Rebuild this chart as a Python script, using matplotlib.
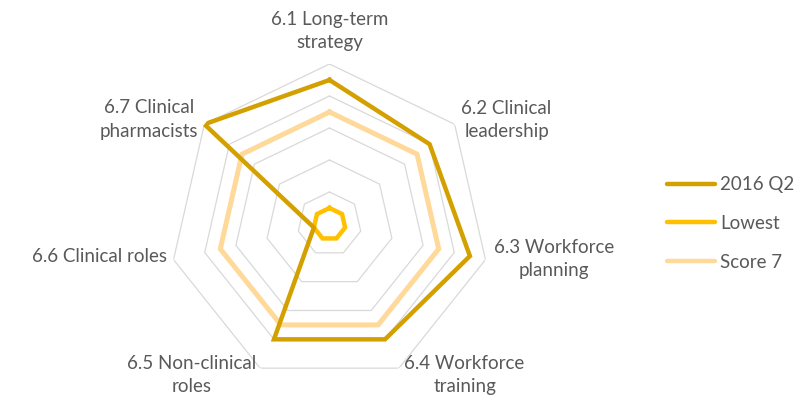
import numpy as np
import matplotlib
matplotlib.use("Agg")
import matplotlib.pyplot as plt
from matplotlib.lines import Line2D

categories = ["6.1 Long-term\nstrategy", "6.2 Clinical\nleadership", "6.3 Workforce\nplanning",
              "6.4 Workforce\ntraining", "6.5 Non-clinical\nroles", "6.6 Clinical roles",
              "6.7 Clinical\npharmacists"]
q2_2016 = [9, 8, 9, 8, 8, 1, 10]
lowest = [1, 1, 1, 1, 1, 1, 1]
score7 = [7, 7, 7, 7, 7, 7, 7]
series_names = ["2016 Q2", "Lowest", "Score 7"]
grid_levels = [2, 4, 6, 8, 10]

# label placement (angle deg clockwise from north, radius in data units)
label_pos = [(0, 12.05), (59.5, 12.84), (98.8, 14.2), (138.2, 12.67),
             (222.4, 12.8), (261.9, 14.5), (300, 13.05)]

col_q2 = "#D4A000"
col_low = "#FFC000"
col_s7 = "#FFD99A"
text_col = "#595959"

plt.rcParams['font.family'] = ['Lato', 'DejaVu Sans']

fig = plt.figure(figsize=(8, 3.99), dpi=100)
cx, cy, R = 329.5, 399 - 224, 160
ax = fig.add_axes([(cx - R) / 800, (cy - R) / 399, 2 * R / 800, 2 * R / 399], projection='polar')
ax.set_theta_zero_location('N')
ax.set_theta_direction(-1)
ax.set_ylim(0, 10)
ax.grid(False)
ax.spines['polar'].set_visible(False)
ax.set_xticks([])
ax.set_yticks([])
ax.patch.set_alpha(0)

n = len(categories)
theta = np.linspace(0, 2 * np.pi, n, endpoint=False)
theta_c = np.append(theta, theta[0])

for lv in grid_levels:
    ax.plot(theta_c, [lv] * (n + 1), color="#D9D9D9", lw=0.9, zorder=1)

def closed(v):
    return list(v) + [v[0]]

ax.plot(theta_c, closed(score7), color=col_s7, lw=3.6, zorder=3, solid_joinstyle='miter')
ax.plot(theta_c, closed(lowest), color=col_low, lw=3.2, zorder=4, solid_joinstyle='miter')
ax.plot(theta_c, closed(q2_2016), color=col_q2, lw=3.2, zorder=5, solid_joinstyle='miter')

for lab, (ang, r) in zip(categories, label_pos):
    ax.text(np.deg2rad(ang), r, lab, ha='center', va='center', fontsize=13.5,
            color=text_col, linespacing=1.45, clip_on=False)

handles = [Line2D([], [], color=col_q2, lw=3.2, solid_capstyle='round'),
           Line2D([], [], color=col_low, lw=3.2, solid_capstyle='round'),
           Line2D([], [], color=col_s7, lw=3.2, solid_capstyle='round')]
fig.legend(handles, series_names, loc='upper left', bbox_to_anchor=(659.5 / 800, 1 - 169 / 399),
           frameon=False, fontsize=13.5, labelcolor=text_col, handlelength=2.56,
           handletextpad=0.27, labelspacing=1.15, borderaxespad=0)

fig.savefig("out.png", dpi=100)
